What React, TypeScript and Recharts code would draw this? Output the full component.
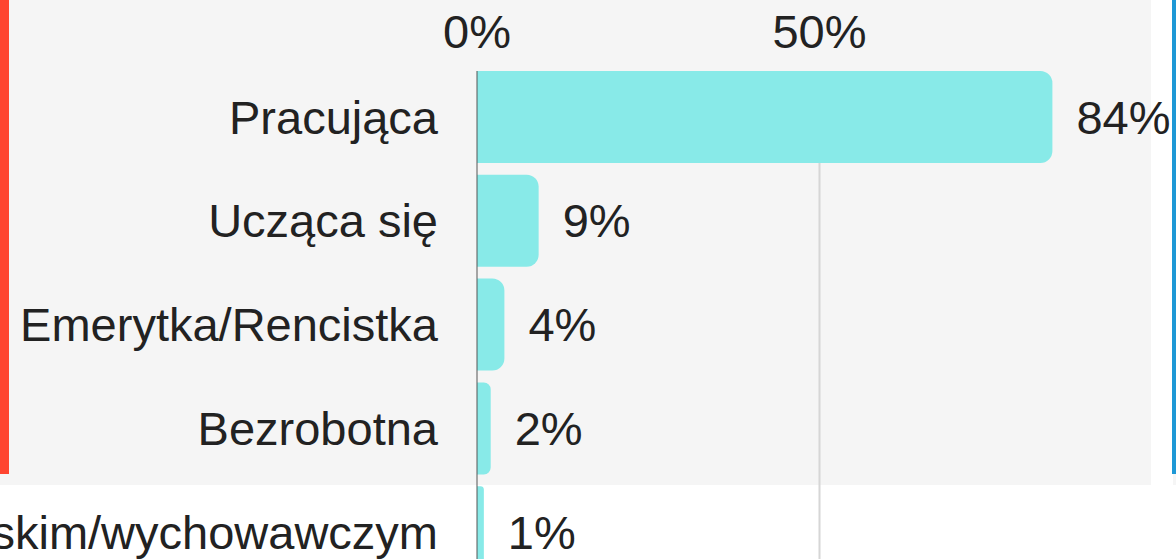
import React from "react";
import { BarChart, Bar, XAxis, YAxis, CartesianGrid, LabelList } from "recharts";

const categories = [
  "Pracująca",
  "Ucząca się",
  "Emerytka/Rencistka",
  "Bezrobotna",
  "Na urlopie macierzyńskim/wychowawczym",
];
const shares = [84, 9, 4, 2, 1];
const xTicks = [0, 50];
const gridValues = [50];

const data = categories.map((name, i) => ({ name, value: shares[i] }));

const FONT = "'Liberation Sans', Arial, sans-serif";

export default function App() {
  return (
    <div
      style={{
        position: "fixed",
        left: 0,
        top: 0,
        width: 1176,
        height: 559,
        overflow: "hidden",
        background: "#ffffff",
        fontFamily: FONT,
      }}
    >
      <div style={{ position: "absolute", left: 0, top: 0, width: 1151, height: 485, background: "#f5f5f5" }} />
      <div style={{ position: "absolute", left: 1173, top: 474, width: 3, height: 11, background: "#f5f5f5" }} />
      <div style={{ position: "absolute", left: 0, top: 0, width: 9, height: 474, background: "#ff4530" }} />
      <div style={{ position: "absolute", left: 1172, top: 0, width: 4, height: 474, background: "#1e98d6" }} />
      <div style={{ position: "absolute", left: -600, top: 0 }}>
        <BarChart
          width={1776}
          height={584}
          data={data}
          layout="vertical"
          margin={{ top: 0, right: 14, bottom: 0, left: 0 }}
        >
          <CartesianGrid
            horizontal={false}
            verticalValues={gridValues}
            stroke="#d6d6d6"
            strokeWidth={2}
          />
          <XAxis
            type="number"
            orientation="top"
            domain={[0, 100]}
            ticks={xTicks}
            tickFormatter={(v: number) => `${v}%`}
            axisLine={false}
            tickLine={false}
            tickSize={0}
            tickMargin={23}
            height={71}
            tick={{ fontSize: 47, fill: "#222222", fontFamily: FONT }}
          />
          <YAxis
            type="category"
            dataKey="name"
            width={1077}
            interval={0}
            padding={{ top: -6, bottom: 0 }}
            axisLine={{ stroke: "#555555", strokeWidth: 1 }}
            tickLine={false}
            tickSize={0}
            tickMargin={39}
            tick={{ fontSize: 47, fill: "#222222", fontFamily: FONT }}
          />
          <Bar
            dataKey="value"
            fill="#88eae8"
            barSize={92}
            radius={[0, 12, 12, 0]}
            isAnimationActive={false}
          >
            <LabelList
              dataKey="value"
              position="right"
              offset={24}
              formatter={(v: number) => `${v}%`}
              style={{ fontSize: 47, fill: "#222222", fontFamily: FONT }}
            />
          </Bar>
        </BarChart>
      </div>
    </div>
  );
}
